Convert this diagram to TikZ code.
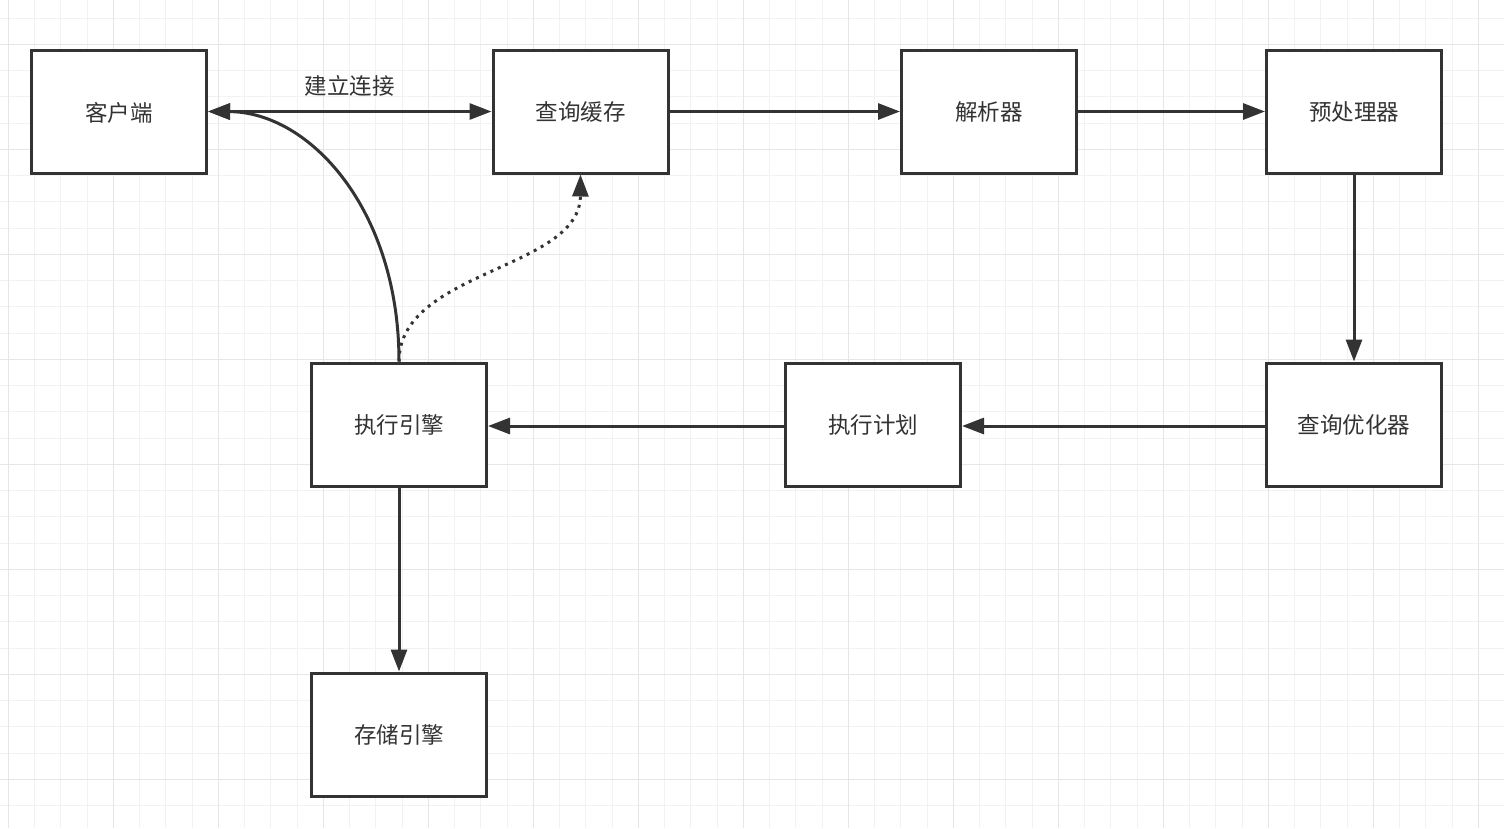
\documentclass[tikz,border=0pt]{standalone}
\usepackage{fontspec}
\newfontfamily\cjk{Noto Sans CJK SC}
\usetikzlibrary{arrows.meta}
\definecolor{ink}{HTML}{333333}
\definecolor{gridminor}{HTML}{F2F2F2}
\definecolor{gridmajor}{HTML}{E6E6E6}
\tikzset{
  box/.style={draw=ink, line width=3pt, fill=white, minimum width=175pt, minimum height=123pt, inner sep=0pt,
    font=\cjk\fontsize{22.5}{26}\selectfont, text=ink, text depth=0pt},
  conn/.style={draw=ink, line width=3pt, -{Triangle[length=22pt,width=16pt]}},
  dconn/.style={draw=ink, line width=3pt, {Triangle[length=22pt,width=16pt]}-{Triangle[length=22pt,width=16pt]}},
  dotconn/.style={draw=ink, line width=3pt, dash pattern=on 3pt off 5pt, -{Triangle[length=22pt,width=16pt]}},
  lbl/.style={font=\cjk\fontsize{22.5}{26}\selectfont, text=ink, inner sep=0pt},
  minorline/.style={draw=gridminor, line width=1pt},
  majorline/.style={draw=gridmajor, line width=1.5pt}
}
\begin{document}
\begin{tikzpicture}[x=1pt,y=-1pt]
\useasboundingbox (0,0) rectangle (1504,828);
\fill[white] (0,0) rectangle (1504,828);
% grid
\foreach \i in {0,...,57} {
  \draw[minorline] ({8.3+26.25*\i},0) -- ({8.3+26.25*\i},828);
}
\foreach \j in {0,...,31} {
  \draw[minorline] (0,{18.05+26.25*\j}) -- (1504,{18.05+26.25*\j});
}
\foreach \i in {0,...,14} {
  \draw[majorline] ({8.3+105*\i},0) -- ({8.3+105*\i},828);
}
\foreach \j in {0,...,7} {
  \draw[majorline] (0,{44.3+105*\j}) -- (1504,{44.3+105*\j});
}
% nodes
\node[box] (client) at (119,111.5) {客户端};
\node[box] (cache) at (580.5,111.5) {查询缓存};
\node[box] (parser) at (989,111.5) {解析器};
\node[box] (pre) at (1354,111.5) {预处理器};
\node[box] (opt) at (1354,424.5) {查询优化器};
\node[box] (plan) at (873,424.5) {执行计划};
\node[box] (exec) at (399,424.5) {执行引擎};
\node[box] (store) at (399,734.5) {存储引擎};
% connectors
\draw[dconn] (client.east) -- node[lbl, above=14pt] (lab) {建立连接} (cache.west);
\draw[conn] (cache.east) -- (parser.west);
\draw[conn] (parser.east) -- (pre.west);
\draw[conn] (pre.south) -- (opt.north);
\draw[conn] ([yshift=-1.5pt]opt.west) -- ([yshift=-1.5pt]plan.east);
\draw[conn] ([yshift=-1.5pt]plan.west) -- ([yshift=-1.5pt]exec.east);
\draw[conn] (exec.south) -- (store.north);
\draw[conn] (exec.north) .. controls (399,210) and (310,112) .. (client.east);
\draw[dotconn] (exec.north) .. controls (399,270) and (580,270) .. (cache.south);
\end{tikzpicture}
\end{document}
